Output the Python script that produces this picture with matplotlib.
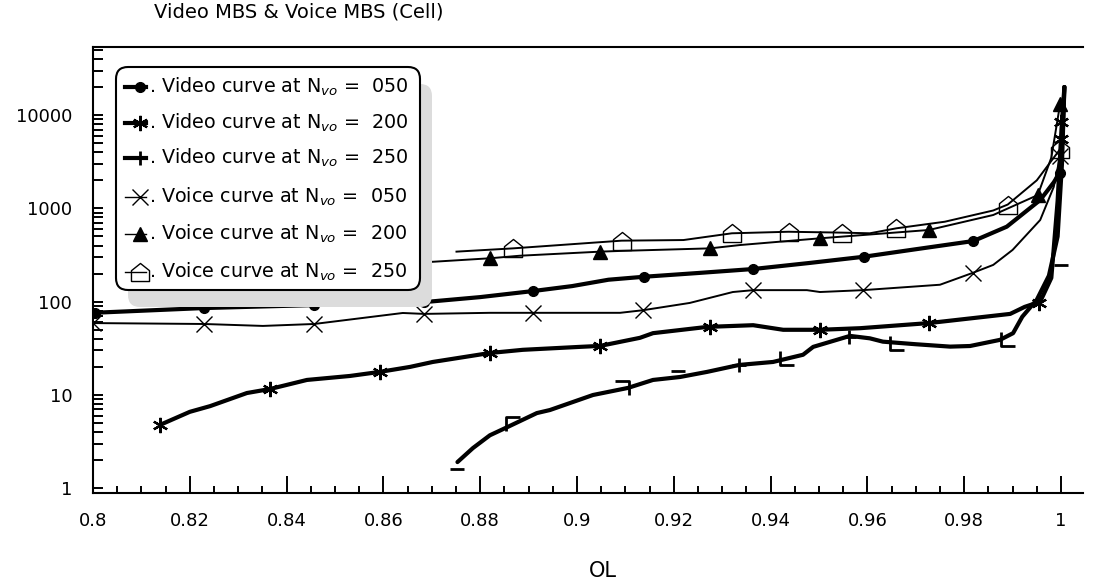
import matplotlib.pyplot as plt
from matplotlib.path import Path
from matplotlib.patches import FancyBboxPatch
from matplotlib.lines import Line2D
from matplotlib.transforms import IdentityTransform
from matplotlib.ticker import MultipleLocator, FixedLocator, FixedFormatter, NullFormatter

W, H = 1104, 587

plt.rcParams['font.family'] = ['DejaVu Sans']
plt.rcParams['mathtext.fontset'] = 'dejavusans'

# ---------------- data ----------------
video050_x = [0.800, 0.8229, 0.8457, 0.8684, 0.880, 0.8909, 0.899, 0.9065, 0.9138, 0.925, 0.9364,
              0.948, 0.9592, 0.970, 0.9819, 0.9888, 0.9957, 0.9985, 0.9997, 1.0003, 1.0007]
video050_y = [76, 85.5, 92, 99, 112, 130, 147, 172, 185, 203, 224,
              260, 303, 365, 447, 637, 1230, 1900, 2400, 6000, 20000]
video050_mx = [0.8004, 0.8229, 0.8457, 0.8684, 0.8909, 0.9138, 0.9364, 0.9592, 0.9819, 0.9997]
video050_my = [76, 85.5, 92, 99, 130, 185, 224, 303, 447, 2400]

video200_x = [0.8138, 0.820, 0.8242, 0.8318, 0.8366, 0.8442, 0.8531, 0.8593, 0.8655, 0.8702,
              0.882, 0.8888, 0.9006, 0.9048, 0.913, 0.9157, 0.9269, 0.9364, 0.9426, 0.9502,
              0.9585, 0.9727, 0.9895, 0.9925, 0.9957, 0.998, 0.9993, 1.0001, 1.0007]
video200_y = [4.77, 6.6, 7.6, 10.5, 11.6, 14.5, 16, 17.7, 20, 22.6,
              28.2, 30.5, 32.8, 33.6, 41, 46, 53.7, 56, 50, 50,
              52, 59, 74, 88, 100, 180, 1200, 7000, 20000]
video200_mx = [0.8138, 0.8366, 0.8593, 0.882, 0.9048, 0.9275, 0.9502, 0.9727, 0.9955, 0.9999, 1.0001]
video200_my = [4.77, 11.6, 17.7, 28.2, 33.6, 54, 50, 59, 97, 5500, 8500]

video250_x = [0.8753, 0.8785, 0.882, 0.8855, 0.8917, 0.8944, 0.9033, 0.9105, 0.9157, 0.9213,
              0.9269, 0.9335, 0.9405, 0.9467, 0.9488, 0.9564, 0.9605, 0.9632, 0.970, 0.9771,
              0.9812, 0.9874, 0.9901, 0.992, 0.995, 0.9975, 0.9993, 1.0002, 1.0007]
video250_y = [1.91, 2.7, 3.7, 4.5, 6.4, 6.9, 10, 11.9, 14.5, 15.6,
              17.7, 21, 22.6, 27, 32.8, 43, 40.5, 37.3, 35, 33,
              33.5, 39, 46, 69, 105, 190, 500, 3000, 20000]
video250_mx = [0.8753, 0.8868, 0.9094, 0.9208, 0.9335, 0.9433, 0.9561, 0.9661, 0.9890, 1.0]
video250_my = [1.6, 4.9, 11.8, 18.2, 21, 24.7, 42, 36, 39.8, 250]
video250_mk = ['dash', 'gamma', 'notl', 'dash', 'plus', 'ell', 'plus', 'ell', 'ell', 'dash']

voice050_x = [0.800, 0.8229, 0.8351, 0.8457, 0.864, 0.8684, 0.882, 0.8909, 0.9089, 0.9136,
              0.9233, 0.9322, 0.9364, 0.9475, 0.9502, 0.9591, 0.975, 0.9818, 0.986, 0.990,
              0.9957, 0.9985, 0.9998]
voice050_y = [59, 57.7, 55, 57.7, 75.7, 74, 76, 76, 76, 81,
              97, 127, 133, 133, 127, 133, 152, 204, 248, 359,
              751, 1700, 3600]
voice050_mx = [0.800, 0.8229, 0.8457, 0.8684, 0.8909, 0.9136, 0.9364, 0.9591, 0.9818, 0.9998]
voice050_my = [59, 57.7, 57.7, 74, 76, 81, 133, 133, 204, 3600]

voice200_x = [0.860, 0.8703, 0.882, 0.8882, 0.9048, 0.9089, 0.9275, 0.9337, 0.9502, 0.9727,
              0.986, 0.9952, 0.998, 0.9998]
voice200_y = [255, 268, 292, 311, 344, 350, 373, 405, 478, 587,
              850, 1390, 3500, 13000]
voice200_mx = [0.882, 0.9048, 0.9275, 0.9502, 0.9727, 0.9952, 0.9998]
voice200_my = [292, 344, 373, 478, 587, 1390, 13000]

voice250_x = [0.8751, 0.8868, 0.9092, 0.922, 0.932, 0.9437, 0.9547, 0.9605, 0.966, 0.976,
              0.986, 0.989, 0.995, 0.9998]
voice250_y = [344, 373, 451, 458, 541, 562, 550, 541, 612, 720,
              950, 1100, 2000, 4300]
voice250_mx = [0.8868, 0.9092, 0.932, 0.9437, 0.9547, 0.966, 0.989, 0.9998]
voice250_my = [373, 451, 541, 562, 550, 612, 1100, 4300]

x_ticks = [0.8, 0.82, 0.84, 0.86, 0.88, 0.9, 0.92, 0.94, 0.96, 0.98, 1.0]
x_labels = ['0.8', '0.82', '0.84', '0.86', '0.88', '0.9', '0.92', '0.94', '0.96', '0.98', '1']
y_ticks = [1, 10, 100, 1000, 10000]
y_labels = ['1', '10', '100', '1000', '10000']

legend_labels = [
    r'. Video curve at N$_{\mathit{vo}}$ =  050',
    r'. Video curve at N$_{\mathit{vo}}$ =  200',
    r'. Video curve at N$_{\mathit{vo}}$ =  250',
    r'. Voice curve at N$_{\mathit{vo}}$ =  050',
    r'. Voice curve at N$_{\mathit{vo}}$ =  200',
    r'. Voice curve at N$_{\mathit{vo}}$ =  250',
]

# ---------------- marker shapes ----------------
house = Path([(-1, -1), (-1, 0.2), (0, 1), (1, 0.2), (1, -1), (-1, -1)])
shapes = {
    'dash': Path([(-1, 0), (1, 0)]),
    'gamma': Path([(-1, -1), (-1, 1), (1, 1)]),
    'notl': Path([(-1, 1), (1, 1), (1, -1)]),
    'ell': Path([(-1, 1), (-1, -1), (1, -1)]),
    'plus': '+',
}
star6 = (6, 2, 0)

# ---------------- figure ----------------
fig = plt.figure(figsize=(W / 100, H / 100), dpi=100)
x0, x1 = 0.8, 1.0045
ax_l, ax_r, ax_t, ax_b = 93, 93 + (x1 - x0) * 4840, 47, 493
ax = fig.add_axes([ax_l / W, 1 - ax_b / H, (ax_r - ax_l) / W, (ax_b - ax_t) / H])

thick = dict(color='black', lw=3.0, solid_capstyle='round', solid_joinstyle='round')
thin = dict(color='black', lw=1.4, solid_joinstyle='round')

ax.plot(video050_x, video050_y, **thick)
ax.plot(video050_mx, video050_my, ls='none', marker='o', ms=7, color='black')

ax.plot(video200_x, video200_y, **thick)
ax.plot(video200_mx, video200_my, ls='none', marker=star6, ms=11, mew=1.6, color='black')

ax.plot(video250_x, video250_y, **thick)
for mx, my, mk in zip(video250_mx, video250_my, video250_mk):
    ax.plot([mx], [my], ls='none', marker=shapes[mk], ms=10, mew=2.0,
            mfc='none', color='black')

ax.plot(voice050_x, voice050_y, **thin)
ax.plot(voice050_mx, voice050_my, ls='none', marker='x', ms=11, mew=1.0, color='black')

ax.plot(voice200_x, voice200_y, **thin)
ax.plot(voice200_mx, voice200_my, ls='none', marker='^', ms=10, color='black')

ax.plot(voice250_x, voice250_y, **thin)
ax.plot(voice250_mx, voice250_my, ls='none', marker=house, ms=13, mew=1.0,
        mfc='none', color='black')

ax.set_yscale('log')
ax.set_xlim(x0, x1)
y_lo = 10 ** ((488.3 - ax_b) / 93.3)
y_hi = 10 ** ((488.3 - ax_t) / 93.3)
ax.set_ylim(y_lo, y_hi)

ax.xaxis.set_major_locator(FixedLocator(x_ticks))
ax.xaxis.set_major_formatter(FixedFormatter(x_labels))
ax.xaxis.set_minor_locator(MultipleLocator(0.005))
ax.yaxis.set_major_locator(FixedLocator(y_ticks))
ax.yaxis.set_major_formatter(FixedFormatter(y_labels))
minor_y = [m * 10 ** d for d in range(0, 5) for m in range(2, 10)]
ax.yaxis.set_minor_locator(FixedLocator(minor_y))
ax.yaxis.set_minor_formatter(NullFormatter())

ax.tick_params(axis='x', which='major', direction='in', length=12, width=1.4,
               labelsize=13, pad=14)
ax.tick_params(axis='x', which='minor', direction='in', length=5, width=1.4)
ax.tick_params(axis='y', which='both', direction='in', length=7, width=1.4,
               labelsize=13, pad=15)

ax.spines['right'].set_visible(False)
for s in ('left', 'bottom', 'top'):
    ax.spines[s].set_linewidth(1.5)

fig.text(154 / W, 1 - 18 / H, 'Video MBS & Voice MBS (Cell)', fontsize=14,
         ha='left', va='baseline')
fig.text(603 / W, 1 - 571 / H, 'OL', fontsize=15, ha='center', va='center')

# ---------------- legend box ----------------
idt = IdentityTransform()


def dpt(px, py):
    return px, H - py


bl, bt, br, bb = 116, 67, 420, 290
shadow = FancyBboxPatch(dpt(bl + 12, bb + 17), br - bl, bb - bt,
                        boxstyle='round,pad=0,rounding_size=12',
                        transform=idt, fc='#dcdcdc', ec='none', zorder=20)
box = FancyBboxPatch(dpt(bl, bb), br - bl, bb - bt,
                     boxstyle='round,pad=0,rounding_size=12',
                     transform=idt, fc='white', ec='black', lw=1.5, zorder=21)
fig.add_artist(shadow)
fig.add_artist(box)

rows_y = [86.7, 123, 158, 196.7, 234, 271.7]
handle_styles = [
    dict(lw=3.0, marker='o', ms=7, mew=1.0),
    dict(lw=3.0, marker=star6, ms=11, mew=1.6),
    dict(lw=3.0, marker='+', ms=10, mew=2.0),
    dict(lw=1.0, marker='x', ms=11, mew=1.0),
    dict(lw=1.0, marker='^', ms=10, mew=1.0),
    dict(lw=1.0, marker=house, ms=13, mew=1.0, mfc='none'),
]
for ry, lab, st in zip(rows_y, legend_labels, handle_styles):
    hx0, hy = dpt(125, ry)
    hx1, _ = dpt(146, ry)
    fig.add_artist(Line2D([hx0, hx1], [hy, hy], color='black', transform=idt,
                          zorder=22, lw=st['lw']))
    fig.add_artist(Line2D([hx1 - 6], [hy], ls='none', color='black', transform=idt,
                          zorder=22, marker=st['marker'], ms=st['ms'], mew=st['mew'],
                          mfc=st.get('mfc', 'black')))
    tx, ty = dpt(149, ry)
    fig.text(tx / W, ty / H, lab, fontsize=13.8, ha='left', va='center', zorder=23)

fig.savefig('out.png', dpi=100)
